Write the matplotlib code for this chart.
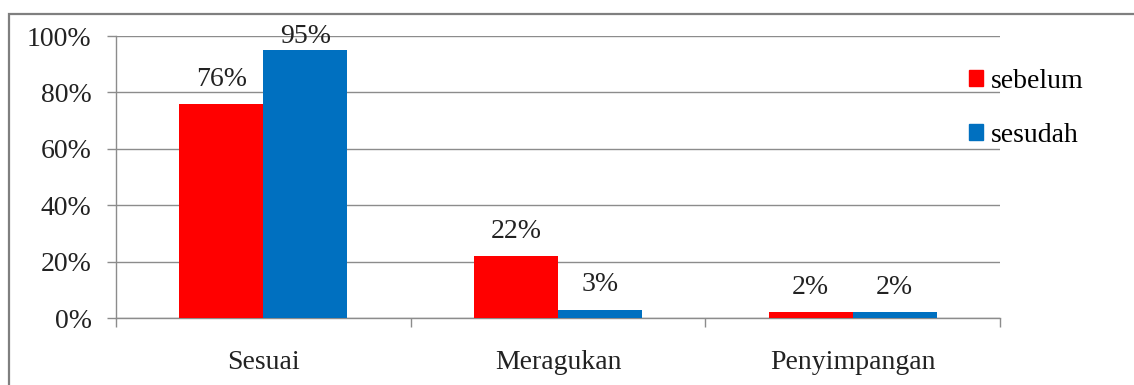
import matplotlib
matplotlib.use("Agg")
import matplotlib.pyplot as plt
from matplotlib.patches import Patch, Rectangle
import numpy as np

categories = ["Sesuai", "Meragukan", "Penyimpangan"]
series_names = ["sebelum", "sesudah"]
sebelum = [76, 22, 2]
sesudah = [95, 3, 2]
colors = ["#FF0000", "#0070C0"]
yticks = [0, 20, 40, 60, 80, 100]

plt.rcParams['font.family'] = ['Liberation Serif', 'DejaVu Serif']
FS = 20

fig = plt.figure(figsize=(11.34, 3.85), dpi=100)
ax = fig.add_axes([116/1134, 1 - 318/385, (1000-116)/1134, (318-36)/385])

x = np.arange(len(categories))
w = 0.285
for i, (vals, c) in enumerate(zip([sebelum, sesudah], colors)):
    pos = x + (i - 0.5) * w
    ax.bar(pos, vals, width=w, color=c, label=series_names[i], zorder=3)
    for p, v in zip(pos, vals):
        ly = min(v + 6.4, 97.5)
        ax.text(p, ly, f"{v}%", ha="center", va="baseline", fontsize=FS,
                color="#222222", zorder=4, clip_on=False)

ax.set_xlim(-0.5, len(categories) - 0.5)
ax.set_ylim(0, 100)
ax.set_yticks(yticks)
ax.set_yticklabels([f"{t}%" for t in yticks], fontsize=FS, color="#222222")
ax.set_xticks(x)
ax.set_xticklabels(categories, fontsize=FS, color="#222222")
ax.set_xticks(np.arange(len(categories) + 1) - 0.5, minor=True)
ax.tick_params(axis="x", which="major", length=0, pad=23)
ax.tick_params(axis="x", which="minor", length=6.5, color="#8c8c8c", width=1)
ax.tick_params(axis="y", length=6.5, color="#8c8c8c", width=1, pad=11)
ax.yaxis.grid(True, color="#8c8c8c", linewidth=1, zorder=0)
ax.set_axisbelow(True)
for s in ["top", "right"]:
    ax.spines[s].set_visible(False)
for s in ["left", "bottom"]:
    ax.spines[s].set_color("#8c8c8c")
    ax.spines[s].set_linewidth(1)

handles = [Patch(color=c) for c in colors]
fig.legend(handles, series_names, loc="upper left", bbox_to_anchor=(969/1134, 1 - 69/385),
           frameon=False, fontsize=FS, handlelength=0.5, handleheight=0.5,
           handletextpad=0.3, labelspacing=1.05, borderpad=0, borderaxespad=0)

fig.add_artist(Rectangle((9/1134, -0.2), 1.2, 1.2 - 14/385,
                         transform=fig.transFigure, fill=False, edgecolor="#7f7f7f",
                         linewidth=1.6))

fig.savefig("out.png", dpi=100)
